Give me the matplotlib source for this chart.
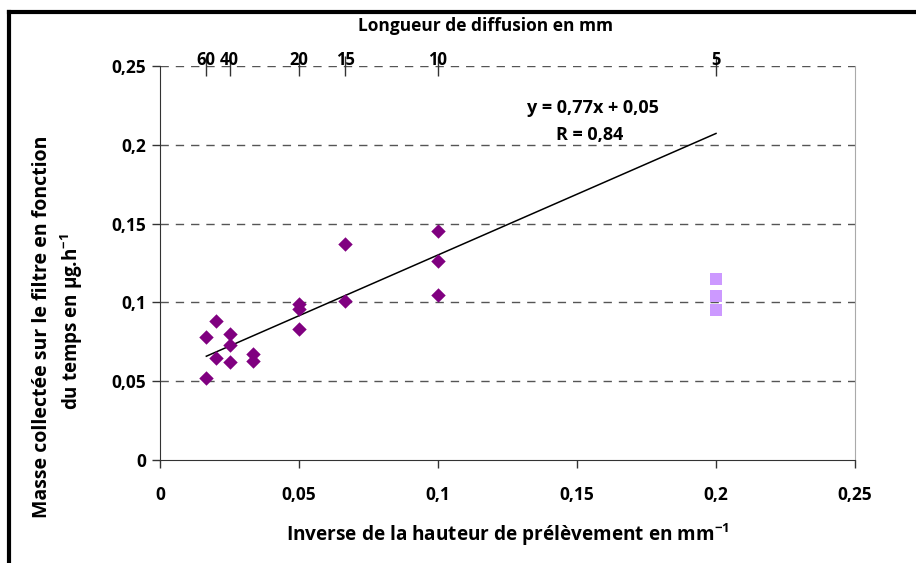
import numpy as np
import matplotlib
matplotlib.use("Agg")
import matplotlib.pyplot as plt
from matplotlib.lines import Line2D
from matplotlib.ticker import FuncFormatter

# inverse of sampling height (mm-1) and collected mass rate (ug.h-1)
x_diamonds = [1/60, 1/60, 1/50, 1/50, 1/40, 1/40, 1/40, 1/30, 1/30,
              1/20, 1/20, 1/20, 1/15, 1/15, 1/10, 1/10, 1/10]
y_diamonds = [0.078, 0.052, 0.088, 0.065, 0.080, 0.073, 0.062, 0.067, 0.063,
              0.099, 0.096, 0.083, 0.137, 0.101, 0.145, 0.126, 0.105]
x_squares = [1/5, 1/5, 1/5]
y_squares = [0.115, 0.104, 0.095]

trend_coef = [0.771, 0.053]
trend_range = [1/60, 0.2]

top_lengths = [60, 40, 20, 15, 10, 5]

plt.rcParams["font.family"] = ["Open Sans", "DejaVu Sans"]
plt.rcParams["font.weight"] = "bold"
plt.rcParams["mathtext.default"] = "bf"
plt.rcParams["mathtext.fontset"] = "custom"
plt.rcParams["mathtext.bf"] = "Open Sans:bold"

fig = plt.figure(figsize=(9.16, 5.63), dpi=100)
ax = fig.add_axes([160/916, 1 - 460/563, 695/916, 394/563])

ax.scatter(x_diamonds, y_diamonds, marker="D", s=54, color="#800080", zorder=3, linewidths=0)
ax.scatter(x_squares, y_squares, marker="s", s=64, color="#CC99FF", zorder=3, linewidths=0)

tx = np.array(trend_range)
ax.plot(tx, np.polyval(trend_coef, tx), color="black", lw=1.1, zorder=2)

ax.set_xlim(0, 0.25)
ax.set_ylim(0, 0.25)
ticks = [0, 0.05, 0.1, 0.15, 0.2, 0.25]
ax.set_xticks(ticks)
ax.set_yticks(ticks)
fmt = FuncFormatter(lambda v, p: ("%g" % round(v, 3)).replace(".", ","))
ax.xaxis.set_major_formatter(fmt)
ax.yaxis.set_major_formatter(fmt)
ax.tick_params(axis="both", labelsize=12.5, direction="out", length=6, width=1, color="#333333")
ax.tick_params(axis="x", pad=13)
ax.tick_params(axis="y", pad=4)
for lab in ax.get_xticklabels() + ax.get_yticklabels():
    lab.set_fontweight("bold")

for yv in ticks[1:]:
    ax.axhline(yv, color="#555555", lw=1, ls=(0, (6, 5)), zorder=1)

ax.spines["top"].set_visible(False)
ax.spines["right"].set_color("#AAAAAA")
ax.spines["left"].set_color("#333333")
ax.spines["bottom"].set_color("#333333")

ax.set_xlabel("Inverse de la hauteur de prélèvement en mm$^{-1}$",
              fontsize=13.7, fontweight="bold", labelpad=12)

# y label: two separately placed lines, as in the original
fig.text(42/916, 1 - 327/563, "Masse collectée sur le filtre en fonction",
         rotation=90, ha="center", va="center", fontsize=14, fontweight="bold")
fig.text(72/916, 1 - 322/563, "du temps en µg.h$^{-1}$",
         rotation=90, ha="center", va="center", fontsize=13.5, fontweight="bold")

top = ax.twiny()
top.set_xlim(ax.get_xlim())
top.set_xticks([1 / L for L in top_lengths])
top.set_xticklabels([str(L) for L in top_lengths])
top.tick_params(axis="x", labelsize=12, direction="inout", length=14.4, width=1,
                color="#333333", pad=-9.2)
for lab in top.get_xticklabels():
    lab.set_fontweight("bold")
for s in top.spines.values():
    s.set_visible(False)
top.set_xlabel("Longueur de diffusion en mm", fontsize=12.5, fontweight="bold")
top.xaxis.set_label_coords(0.469, 1.0 + 35/394)

ax.text(0.1557, 0.2235, "y = 0,77x + 0,05", fontsize=13, fontweight="bold", ha="center", va="center")
ax.text(0.1545, 0.2065, "R = 0,84", fontsize=13, fontweight="bold", ha="center", va="center")

# outer chart frame (left and top edges)
fig.add_artist(Line2D([9/916, 9/916], [0, 1 - 12/563], color="black", lw=3, transform=fig.transFigure))
fig.add_artist(Line2D([9/916, 1], [1 - 12/563, 1 - 12/563], color="black", lw=3, transform=fig.transFigure))

fig.savefig("out.png", dpi=100)
